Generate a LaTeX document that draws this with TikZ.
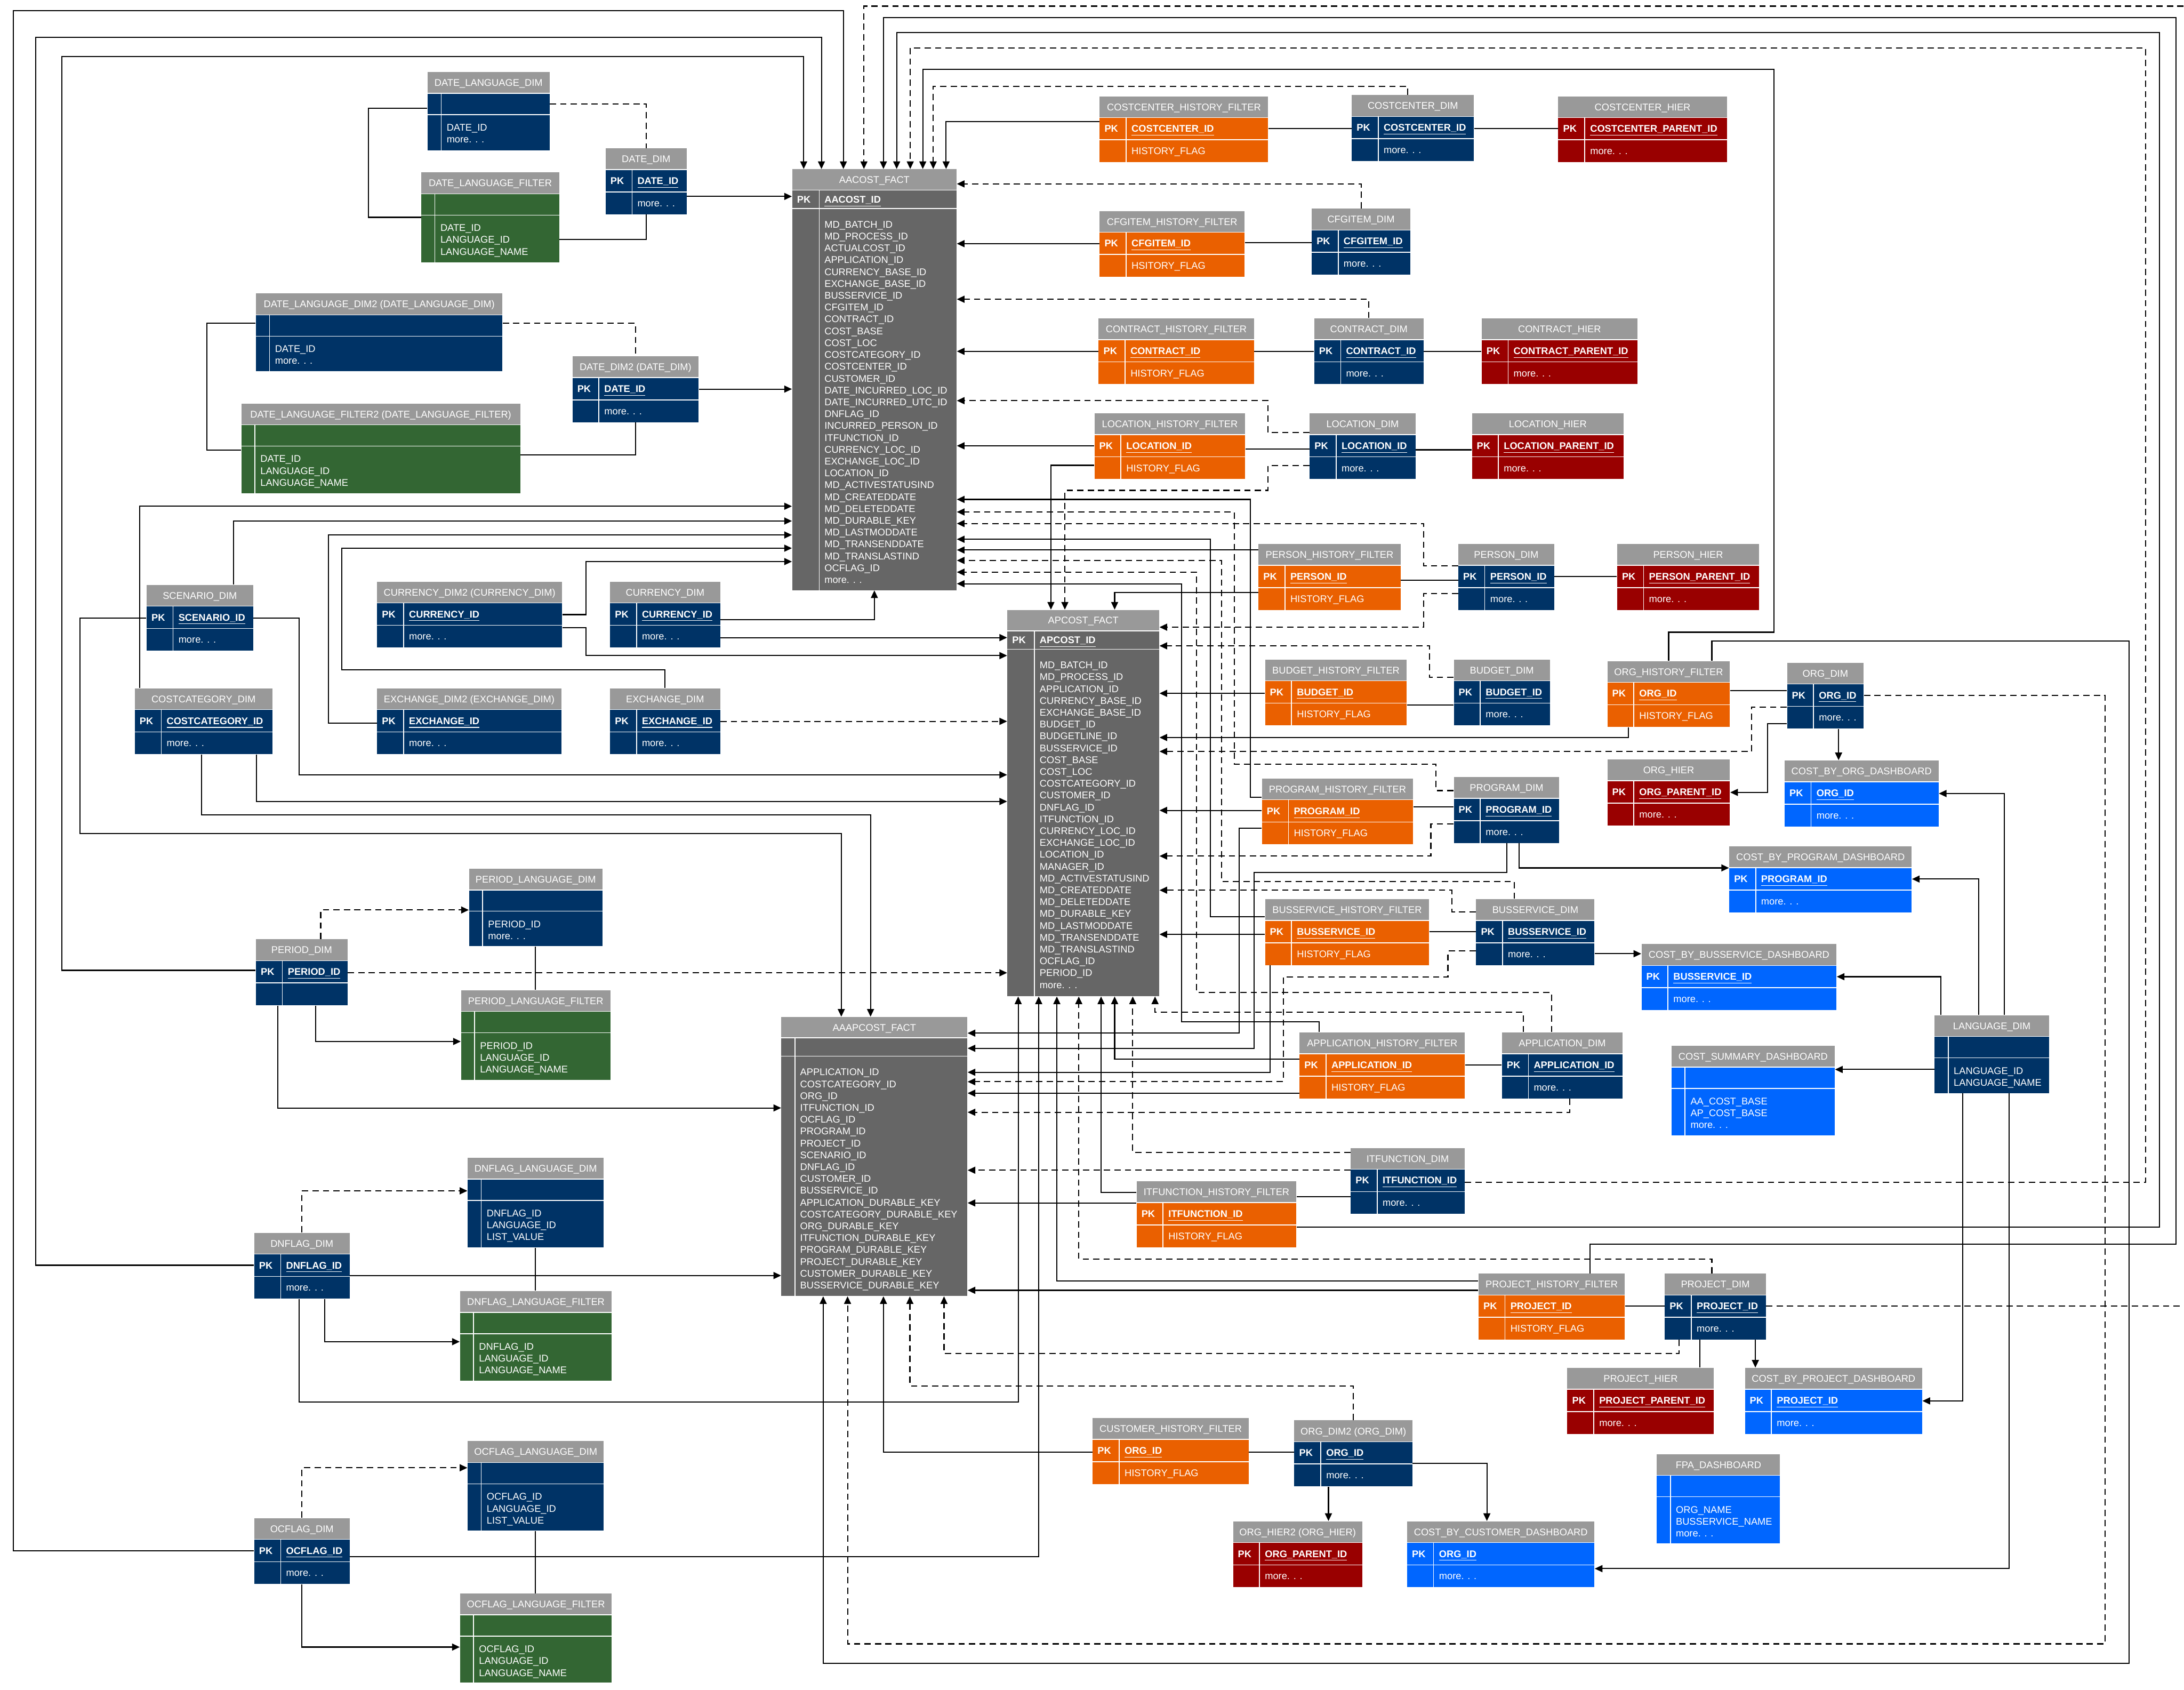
\documentclass[tikz,border=0pt]{standalone}
\usepackage{fontspec}
\setmainfont{Liberation Sans}
\usetikzlibrary{arrows.meta,fit}
\definecolor{thdr}{HTML}{999999}
\definecolor{tnavy}{HTML}{003366}
\definecolor{torange}{HTML}{EA6000}
\definecolor{tgreen}{HTML}{336633}
\definecolor{tred}{HTML}{990000}
\definecolor{tblue}{HTML}{0066FF}
\definecolor{tfact}{HTML}{666666}
\newcommand\ft{\fontsize{7}{8.5}\selectfont}
\newcommand\ftb{\fontsize{7}{8.5}\selectfont\bfseries}
\tikzset{
 hdrtxt/.style={inner sep=0pt, text=white, font=\ft, text height=5pt, text depth=0pt},
 celltxt/.style={anchor=west, inner sep=0pt, text=white, font=\ft, text height=5pt, text depth=0pt},
 bodytxt/.style={anchor=north west, inner sep=0pt, text=white, font=\ft, align=left},
 sepl/.style={draw=white, line width=0.6pt},
 boxn/.style={inner sep=0pt, draw=none},
 lnk/.style={draw=black, line width=0.8pt},
 dlnk/.style={lnk, dash pattern=on 4.5pt off 3pt},
 fk/.style={lnk, -{Triangle[length=5.5pt,width=5pt]}},
 dfk/.style={fk, dash pattern=on 4.5pt off 3pt},
}
% table with PK row and one-line second row
\newcommand\tblpk[8]{%
 \fill[thdr] (#2,#3) rectangle (#4,{#3+15.3});
 \fill[#5] (#2,{#3+15.3}) rectangle (#4,{#3+47.3});
 \draw[sepl] (#2,{#3+15.3}) -- (#4,{#3+15.3}) (#2,{#3+31.3}) -- (#4,{#3+31.3}) ({#2+19},{#3+15.3}) -- ({#2+19},{#3+47.3});
 \node[hdrtxt] at ({(#2+#4)/2},{#3+7.65}) {#6};
 \node[celltxt,font=\ftb] at ({#2+3.3},{#3+23.3}) {PK};
 \node[celltxt,font=\ftb] at ({#2+22.7},{#3+23.3}) {\underline{#7}};
 \node[celltxt] at ({#2+22.7},{#3+39.3}) {#8};
 \coordinate (#1-a) at (#2,#3);
 \coordinate (#1-b) at (#4,{#3+47.3});
 \node[boxn,fit=(#1-a)(#1-b)] (#1) {};
}
% table without PK
\newcommand\tblnp[8]{%
 \fill[thdr] (#2,#3) rectangle (#4,{#3+15.3});
 \fill[#6] (#2,{#3+15.3}) rectangle (#4,#5);
 \draw[sepl] (#2,{#3+15.3}) -- (#4,{#3+15.3}) (#2,{#3+30.6}) -- (#4,{#3+30.6}) ({#2+9.75},{#3+15.3}) -- ({#2+9.75},#5);
 \node[hdrtxt] at ({(#2+#4)/2},{#3+7.65}) {#7};
 \node[bodytxt] at ({#2+13.5},{#3+37.2}) {#8};
 \coordinate (#1-a) at (#2,#3);
 \coordinate (#1-b) at (#4,#5);
 \node[boxn,fit=(#1-a)(#1-b)] (#1) {};
}
% fact table
\newcommand\tblfact[9]{%
 \fill[thdr] (#2,#3) rectangle (#4,{#3+15});
 \fill[tfact] (#2,{#3+15}) rectangle (#4,#5);
 \draw[sepl] (#2,{#3+15}) -- (#4,{#3+15}) (#2,{#3+28.2}) -- (#4,{#3+28.2}) ({#2+#6},{#3+15}) -- ({#2+#6},#5);
 \node[hdrtxt] at ({(#2+#4)/2},{#3+7.5}) {#7};
 \if\relax\detokenize{#8}\relax\else
  \node[celltxt,font=\ftb] at ({#2+3.3},{#3+21.6}) {PK};
  \node[celltxt,font=\ftb] at ({#2+#6+3.5},{#3+21.6}) {\underline{#8}};
 \fi
 \node[bodytxt] at ({#2+#6+3.5},{#3+37}) {#9};
 \coordinate (#1-a) at (#2,#3);
 \coordinate (#1-b) at (#4,#5);
 \node[boxn,fit=(#1-a)(#1-b)] (#1) {};
}
\begin{document}
\begin{tikzpicture}[x=1pt,y=-1pt]
\fill[white] (0,0) rectangle (1568,1213);
\useasboundingbox (0,0) rectangle (1568,1213);

% ---------- fact tables ----------
\tblfact{aac}{568.75}{121.5}{686.75}{423.6}{19.5}{AACOST\_FACT}{AACOST\_ID}{MD\_BATCH\_ID\\MD\_PROCESS\_ID\\ACTUALCOST\_ID\\APPLICATION\_ID\\CURRENCY\_BASE\_ID\\EXCHANGE\_BASE\_ID\\BUSSERVICE\_ID\\CFGITEM\_ID\\CONTRACT\_ID\\COST\_BASE\\COST\_LOC\\COSTCATEGORY\_ID\\COSTCENTER\_ID\\CUSTOMER\_ID\\DATE\_INCURRED\_LOC\_ID\\DATE\_INCURRED\_UTC\_ID\\DNFLAG\_ID\\INCURRED\_PERSON\_ID\\ITFUNCTION\_ID\\CURRENCY\_LOC\_ID\\EXCHANGE\_LOC\_ID\\LOCATION\_ID\\MD\_ACTIVESTATUSIND\\MD\_CREATEDDATE\\MD\_DELETEDDATE\\MD\_DURABLE\_KEY\\MD\_LASTMODDATE\\MD\_TRANSENDDATE\\MD\_TRANSLASTIND\\OCFLAG\_ID\\more. . .}
\tblfact{apc}{723.25}{437.8}{832.25}{715.1}{19.5}{APCOST\_FACT}{APCOST\_ID}{MD\_BATCH\_ID\\MD\_PROCESS\_ID\\APPLICATION\_ID\\CURRENCY\_BASE\_ID\\EXCHANGE\_BASE\_ID\\BUDGET\_ID\\BUDGETLINE\_ID\\BUSSERVICE\_ID\\COST\_BASE\\COST\_LOC\\COSTCATEGORY\_ID\\CUSTOMER\_ID\\DNFLAG\_ID\\ITFUNCTION\_ID\\CURRENCY\_LOC\_ID\\EXCHANGE\_LOC\_ID\\LOCATION\_ID\\MANAGER\_ID\\MD\_ACTIVESTATUSIND\\MD\_CREATEDDATE\\MD\_DELETEDDATE\\MD\_DURABLE\_KEY\\MD\_LASTMODDATE\\MD\_TRANSENDDATE\\MD\_TRANSLASTIND\\OCFLAG\_ID\\PERIOD\_ID\\more. . .}
\tblfact{aaap}{561}{730}{694.5}{930.3}{9.75}{AAAPCOST\_FACT}{}{APPLICATION\_ID\\COSTCATEGORY\_ID\\ORG\_ID\\ITFUNCTION\_ID\\OCFLAG\_ID\\PROGRAM\_ID\\PROJECT\_ID\\SCENARIO\_ID\\DNFLAG\_ID\\CUSTOMER\_ID\\BUSSERVICE\_ID\\APPLICATION\_DURABLE\_KEY\\COSTCATEGORY\_DURABLE\_KEY\\ORG\_DURABLE\_KEY\\ITFUNCTION\_DURABLE\_KEY\\PROGRAM\_DURABLE\_KEY\\PROJECT\_DURABLE\_KEY\\CUSTOMER\_DURABLE\_KEY\\BUSSERVICE\_DURABLE\_KEY}

% ---------- tables without PK ----------
\tblnp{dld}{307}{51.6}{394.5}{107.8}{tnavy}{DATE\_LANGUAGE\_DIM}{DATE\_ID\\more. . .}
\tblnp{dlf}{302.5}{123.8}{401.5}{188.3}{tgreen}{DATE\_LANGUAGE\_FILTER}{DATE\_ID\\LANGUAGE\_ID\\LANGUAGE\_NAME}
\tblnp{dld2}{183.75}{210.7}{360.75}{266.4}{tnavy}{DATE\_LANGUAGE\_DIM2 (DATE\_LANGUAGE\_DIM)}{DATE\_ID\\more. . .}
\tblnp{dlf2}{173.25}{289.6}{373.5}{354.1}{tgreen}{DATE\_LANGUAGE\_FILTER2 (DATE\_LANGUAGE\_FILTER)}{DATE\_ID\\LANGUAGE\_ID\\LANGUAGE\_NAME}
\tblnp{pld}{336.75}{623.5}{432.5}{679.2}{tnavy}{PERIOD\_LANGUAGE\_DIM}{PERIOD\_ID\\more. . .}
\tblnp{plf}{331}{710.7}{438.25}{775}{tgreen}{PERIOD\_LANGUAGE\_FILTER}{PERIOD\_ID\\LANGUAGE\_ID\\LANGUAGE\_NAME}
\tblnp{dnld}{335.75}{831}{433.5}{895.5}{tnavy}{DNFLAG\_LANGUAGE\_DIM}{DNFLAG\_ID\\LANGUAGE\_ID\\LIST\_VALUE}
\tblnp{dnlf}{330.25}{926.7}{439.25}{991.2}{tgreen}{DNFLAG\_LANGUAGE\_FILTER}{DNFLAG\_ID\\LANGUAGE\_ID\\LANGUAGE\_NAME}
\tblnp{ocld}{335.75}{1034.5}{433.5}{1098.7}{tnavy}{OCFLAG\_LANGUAGE\_DIM}{OCFLAG\_ID\\LANGUAGE\_ID\\LIST\_VALUE}
\tblnp{oclf}{330.25}{1143.9}{439.25}{1207.8}{tgreen}{OCFLAG\_LANGUAGE\_FILTER}{OCFLAG\_ID\\LANGUAGE\_ID\\LANGUAGE\_NAME}
\tblnp{lang}{1389}{728.7}{1471}{784.7}{tnavy}{LANGUAGE\_DIM}{LANGUAGE\_ID\\LANGUAGE\_NAME}
\tblnp{csd}{1200}{750.7}{1317.25}{815}{tblue}{COST\_SUMMARY\_DASHBOARD}{AA\_COST\_BASE\\AP\_COST\_BASE\\more. . .}
\tblnp{fpa}{1189.5}{1043.8}{1278}{1108}{tblue}{FPA\_DASHBOARD}{ORG\_NAME\\BUSSERVICE\_NAME\\more. . .}

% ---------- tables with PK ----------
\tblpk{ddim}{434.75}{106.5}{493}{tnavy}{DATE\_DIM}{DATE\_ID}{more. . .}
\tblpk{ddim2}{411}{255.8}{501.5}{tnavy}{DATE\_DIM2 (DATE\_DIM)}{DATE\_ID}{more. . .}
\tblpk{cchf}{789.5}{69.1}{910.5}{torange}{COSTCENTER\_HISTORY\_FILTER}{COSTCENTER\_ID}{HISTORY\_FLAG}
\tblpk{ccd}{970.5}{68.3}{1058.25}{tnavy}{COSTCENTER\_DIM}{COSTCENTER\_ID}{more. . .}
\tblpk{cch}{1118.75}{69.1}{1239.75}{tred}{COSTCENTER\_HIER}{COSTCENTER\_PARENT\_ID}{more. . .}
\tblpk{cfhf}{789.5}{151.4}{893.5}{torange}{CFGITEM\_HISTORY\_FILTER}{CFGITEM\_ID}{HSITORY\_FLAG}
\tblpk{cfd}{941.75}{149.8}{1012.5}{tnavy}{CFGITEM\_DIM}{CFGITEM\_ID}{more. . .}
\tblpk{chf}{788.75}{228.5}{900.25}{torange}{CONTRACT\_HISTORY\_FILTER}{CONTRACT\_ID}{HISTORY\_FLAG}
\tblpk{cd}{943.5}{228.5}{1022}{tnavy}{CONTRACT\_DIM}{CONTRACT\_ID}{more. . .}
\tblpk{ch}{1063.75}{228.5}{1175.5}{tred}{CONTRACT\_HIER}{CONTRACT\_PARENT\_ID}{more. . .}
\tblpk{lhf}{785.75}{296.6}{894}{torange}{LOCATION\_HISTORY\_FILTER}{LOCATION\_ID}{HISTORY\_FLAG}
\tblpk{ld}{940.25}{296.6}{1016.25}{tnavy}{LOCATION\_DIM}{LOCATION\_ID}{more. . .}
\tblpk{lh}{1056.75}{296.6}{1165.75}{tred}{LOCATION\_HIER}{LOCATION\_PARENT\_ID}{more. . .}
\tblpk{phf}{903.5}{390.5}{1005.5}{torange}{PERSON\_HISTORY\_FILTER}{PERSON\_ID}{HISTORY\_FLAG}
\tblpk{pd}{1047}{390.5}{1115.75}{tnavy}{PERSON\_DIM}{PERSON\_ID}{more. . .}
\tblpk{ph}{1161}{390.5}{1263}{tred}{PERSON\_HIER}{PERSON\_PARENT\_ID}{more. . .}
\tblpk{bhf}{908.25}{473.4}{1010}{torange}{BUDGET\_HISTORY\_FILTER}{BUDGET\_ID}{HISTORY\_FLAG}
\tblpk{bd}{1043.75}{473.4}{1112.75}{tnavy}{BUDGET\_DIM}{BUDGET\_ID}{more. . .}
\tblpk{ohf}{1154}{474.5}{1242}{torange}{ORG\_HISTORY\_FILTER}{ORG\_ID}{HISTORY\_FLAG}
\tblpk{od}{1283}{475.7}{1338}{tnavy}{ORG\_DIM}{ORG\_ID}{more. . .}
\tblpk{oh}{1154}{545.1}{1242}{tred}{ORG\_HIER}{ORG\_PARENT\_ID}{more. . .}
\tblpk{cbod}{1281.25}{545.9}{1391.75}{tblue}{COST\_BY\_ORG\_DASHBOARD}{ORG\_ID}{more. . .}
\tblpk{prhf}{906}{558.8}{1014.5}{torange}{PROGRAM\_HISTORY\_FILTER}{PROGRAM\_ID}{HISTORY\_FLAG}
\tblpk{prd}{1043.75}{557.8}{1119.5}{tnavy}{PROGRAM\_DIM}{PROGRAM\_ID}{more. . .}
\tblpk{cbpd}{1241.5}{607.5}{1372.5}{tblue}{COST\_BY\_PROGRAM\_DASHBOARD}{PROGRAM\_ID}{more. . .}
\tblpk{bshf}{908.25}{645.4}{1026}{torange}{BUSSERVICE\_HISTORY\_FILTER}{BUSSERVICE\_ID}{HISTORY\_FLAG}
\tblpk{bsd}{1059.75}{645.4}{1144.75}{tnavy}{BUSSERVICE\_DIM}{BUSSERVICE\_ID}{more. . .}
\tblpk{cbbd}{1178.5}{677.7}{1318.5}{tblue}{COST\_BY\_BUSSERVICE\_DASHBOARD}{BUSSERVICE\_ID}{more. . .}
\tblpk{ahf}{933}{741.1}{1051.75}{torange}{APPLICATION\_HISTORY\_FILTER}{APPLICATION\_ID}{HISTORY\_FLAG}
\tblpk{ad}{1078.25}{741.1}{1165}{tnavy}{APPLICATION\_DIM}{APPLICATION\_ID}{more. . .}
\tblpk{itfd}{969.75}{824}{1051.5}{tnavy}{ITFUNCTION\_DIM}{ITFUNCTION\_ID}{more. . .}
\tblpk{ithf}{816}{848}{930.75}{torange}{ITFUNCTION\_HISTORY\_FILTER}{ITFUNCTION\_ID}{HISTORY\_FLAG}
\tblpk{pjhf}{1061.5}{914.3}{1166.5}{torange}{PROJECT\_HISTORY\_FILTER}{PROJECT\_ID}{HISTORY\_FLAG}
\tblpk{pjd}{1195.25}{914.3}{1267.75}{tnavy}{PROJECT\_DIM}{PROJECT\_ID}{more. . .}
\tblpk{pjh}{1125.25}{981.9}{1230.5}{tred}{PROJECT\_HIER}{PROJECT\_PARENT\_ID}{more. . .}
\tblpk{cbpjd}{1252.75}{981.9}{1380}{tblue}{COST\_BY\_PROJECT\_DASHBOARD}{PROJECT\_ID}{more. . .}
\tblpk{cuhf}{784.5}{1018}{896.5}{torange}{CUSTOMER\_HISTORY\_FILTER}{ORG\_ID}{HISTORY\_FLAG}
\tblpk{od2}{929.25}{1019.6}{1014}{tnavy}{ORG\_DIM2 (ORG\_DIM)}{ORG\_ID}{more. . .}
\tblpk{oh2}{885.25}{1092}{978}{tred}{ORG\_HIER2 (ORG\_HIER)}{ORG\_PARENT\_ID}{more. . .}
\tblpk{cbcd}{1010.25}{1092}{1144.75}{tblue}{COST\_BY\_CUSTOMER\_DASHBOARD}{ORG\_ID}{more. . .}
\tblpk{scd}{105.25}{419.8}{181.75}{tnavy}{SCENARIO\_DIM}{SCENARIO\_ID}{more. . .}
\tblpk{ccat}{96.75}{494.1}{195.5}{tnavy}{COSTCATEGORY\_DIM}{COSTCATEGORY\_ID}{more. . .}
\tblpk{cur2}{270.75}{417.5}{403.5}{tnavy}{CURRENCY\_DIM2 (CURRENCY\_DIM)}{CURRENCY\_ID}{more. . .}
\tblpk{cur}{438}{417.5}{517}{tnavy}{CURRENCY\_DIM}{CURRENCY\_ID}{more. . .}
\tblpk{ex2}{270.75}{494.1}{403}{tnavy}{EXCHANGE\_DIM2 (EXCHANGE\_DIM)}{EXCHANGE\_ID}{more. . .}
\tblpk{ex}{438}{494.1}{517}{tnavy}{EXCHANGE\_DIM}{EXCHANGE\_ID}{more. . .}
\tblpk{perd}{183.75}{674.3}{249.5}{tnavy}{PERIOD\_DIM}{PERIOD\_ID}{}
\tblpk{dnd}{182.5}{884.9}{251}{tnavy}{DNFLAG\_DIM}{DNFLAG\_ID}{more. . .}
\tblpk{ocd}{182.5}{1089.7}{251}{tnavy}{OCFLAG\_DIM}{OCFLAG\_ID}{more. . .}

% ---------- connectors: date group ----------
\draw[lnk] (dld.west |- 0,77.6) -- (264.5,77.6) -- (264.5,156) -- (dlf.west |- 0,156);
\draw[dlnk] (dld.east |- 0,74.8) -- (464,74.8) -- (ddim.north -| 464,0);
\draw[lnk] (ddim.south -| 464,0) -- (464,172) -- (dlf.east |- 0,172);
\draw[fk] (ddim.east |- 0,141) -- (aac.west |- 0,141);
\draw[lnk] (dld2.west |- 0,232.1) -- (148.5,232.1) -- (148.5,323.2) -- (dlf2.west |- 0,323.2);
\draw[dlnk] (dld2.east |- 0,232.1) -- (456.25,232.1) -- (ddim2.north -| 456.25,0);
\draw[lnk] (ddim2.south -| 456.25,0) -- (456.25,326.5) -- (dlf2.east |- 0,326.5);
\draw[fk] (ddim2.east |- 0,279.3) -- (aac.west |- 0,279.3);

% ---------- AACOST top ----------
\draw[fk] (perd.west |- 0,696.5) -- (44.5,696.5) -- (44.5,40.7) -- (577,40.7) -- (aac.north -| 577,0);
\draw[fk] (dnd.west |- 0,908.2) -- (25.5,908.2) -- (25.5,26.8) -- (589.75,26.8) -- (aac.north -| 589.75,0);
\draw[fk] (ocd.west |- 0,1113.2) -- (9.5,1113.2) -- (9.5,7.7) -- (605.5,7.7) -- (aac.north -| 605.5,0);
\draw[dfk] (pjd.east |- 0,937.5) -- (1570,937.5) -- (1570,4.4) -- (620.25,4.4) -- (aac.north -| 620.25,0);
\draw[fk] (pjhf.north -| 1141.5,0) -- (1141.5,893) -- (1562.25,893) -- (1562.25,12.6) -- (634.25,12.6) -- (aac.north -| 634.25,0);
\draw[fk] (ithf.east |- 0,881) -- (1550.25,881) -- (1550.25,23.5) -- (643.75,23.5) -- (aac.north -| 643.75,0);
\draw[dfk] (itfd.east |- 0,848.8) -- (1540.25,848.8) -- (1540.25,34.3) -- (653.5,34.3) -- (aac.north -| 653.5,0);
\draw[fk] (ohf.north -| 1198,0) -- (1198,453.8) -- (1273.5,453.8) -- (1273.5,49.8) -- (662.5,49.8) -- (aac.north -| 662.5,0);
\draw[dfk] (ccd.north -| 1010.75,0) -- (1010.75,61.9) -- (670,61.9) -- (aac.north -| 670,0);
\draw[fk] (cchf.west |- 0,87.2) -- (679.25,87.2) -- (aac.north -| 679.25,0);
\draw[lnk] (cchf.east |- 0,92.3) -- (ccd.west |- 0,92.3);
\draw[lnk] (ccd.east |- 0,92.3) -- (cch.west |- 0,92.3);

% ---------- AACOST right ----------
\draw[dfk] (cfd.north -| 977.25,0) -- (977.25,132) -- (aac.east |- 0,132);
\draw[fk] (cfhf.west |- 0,174.9) -- (aac.east |- 0,174.9);
\draw[lnk] (cfhf.east |- 0,174.3) -- (cfd.west |- 0,174.3);
\draw[dfk] (cd.north -| 982.75,0) -- (982.75,214.8) -- (aac.east |- 0,214.8);
\draw[fk] (chf.west |- 0,252.2) -- (aac.east |- 0,252.2);
\draw[lnk] (chf.east |- 0,252.2) -- (cd.west |- 0,252.2);
\draw[lnk] (cd.east |- 0,252.2) -- (ch.west |- 0,252.2);
\draw[dfk] (ld.west |- 0,310.5) -- (910.25,310.5) -- (910.25,287.6) -- (aac.east |- 0,287.6);
\draw[fk] (lhf.west |- 0,320) -- (aac.east |- 0,320);
\draw[lnk] (lhf.east |- 0,322.4) -- (ld.west |- 0,322.4);
\draw[lnk] (ld.east |- 0,322.9) -- (lh.west |- 0,322.9);
\draw[fk] (lhf.west |- 0,334) -- (754.5,334) -- (apc.north -| 754.5,0);
\draw[dfk] (ld.west |- 0,334.2) -- (910.25,334.2) -- (910.25,352) -- (764.5,352) -- (apc.north -| 764.5,0);
\draw[fk] (prhf.west |- 0,572.2) -- (897.75,572.2) -- (897.75,358.5) -- (aac.east |- 0,358.5);
\draw[dfk] (prd.west |- 0,567.5) -- (1031,567.5) -- (1031,548.5) -- (886.25,548.5) -- (886.25,367.5) -- (aac.east |- 0,367.5);
\draw[dfk] (pd.west |- 0,406) -- (1022,406) -- (1022,375.8) -- (aac.east |- 0,375.8);
\draw[fk] (bshf.west |- 0,658) -- (869,658) -- (869,387.1) -- (aac.east |- 0,387.1);
\draw[fk] (phf.west |- 0,394.8) -- (aac.east |- 0,394.8);
\draw[dfk] (bsd.north -| 1087.25,0) -- (1087.25,632.8) -- (877,632.8) -- (877,402.3) -- (aac.east |- 0,402.3);
\draw[dfk] (ad.north -| 1114,0) -- (1114,712.5) -- (859,712.5) -- (859,410.7) -- (aac.east |- 0,410.7);
\draw[fk] (ahf.north -| 947,0) -- (947,733.4) -- (848.25,733.4) -- (848.25,419) -- (aac.east |- 0,419);

% ---------- AACOST left / bottom ----------
\draw[fk] (ccat.north -| 100.25,0) -- (100.25,363.4) -- (aac.west |- 0,363.4);
\draw[fk] (scd.north -| 167.75,0) -- (167.75,374) -- (aac.west |- 0,374);
\draw[fk] (ex2.west |- 0,519.1) -- (235.75,519.1) -- (235.75,384) -- (aac.west |- 0,384);
\draw[fk] (ex.north -| 477.5,0) -- (477.5,480.9) -- (245.5,480.9) -- (245.5,393.5) -- (aac.west |- 0,393.5);
\draw[fk] (cur2.east |- 0,441.2) -- (420.75,441.2) -- (420.75,403.1) -- (aac.west |- 0,403.1);
\draw[fk] (cur.east |- 0,444.8) -- (627.75,444.8) -- (aac.south -| 627.75,0);

% ---------- APCOST ----------
\draw[fk] (cur.east |- 0,457.7) -- (apc.west |- 0,457.7);
\draw[fk] (cur2.east |- 0,450.7) -- (420.75,450.7) -- (420.75,470.6) -- (apc.west |- 0,470.6);
\draw[dfk] (ex.east |- 0,517.8) -- (apc.west |- 0,517.8);
\draw[fk] (scd.east |- 0,443.5) -- (214.75,443.5) -- (214.75,556.2) -- (apc.west |- 0,556.2);
\draw[fk] (ccat.south -| 184.25,0) -- (184.25,575.3) -- (apc.west |- 0,575.3);
\draw[dfk] (perd.east |- 0,698.3) -- (apc.west |- 0,698.3);
\draw[fk] (phf.west |- 0,425.4) -- (800.25,425.4) -- (apc.north -| 800.25,0);
\draw[dfk] (pd.west |- 0,426) -- (1022,426) -- (1022,450.2) -- (apc.east |- 0,450.2);
\draw[lnk] (phf.east |- 0,416.4) -- (pd.west |- 0,416.4);
\draw[lnk] (pd.east |- 0,413.8) -- (ph.west |- 0,413.8);
\draw[dfk] (bd.west |- 0,486.3) -- (1026.25,486.3) -- (1026.25,463.6) -- (apc.east |- 0,463.6);
\draw[fk] (bhf.west |- 0,497.7) -- (apc.east |- 0,497.7);
\draw[lnk] (bhf.east |- 0,505.9) -- (bd.west |- 0,505.9);
\draw[fk] (ohf.south -| 1169.25,0) -- (1169.25,529.4) -- (apc.east |- 0,529.4);
\draw[dfk] (od.west |- 0,507.5) -- (1257.5,507.5) -- (1257.5,539.4) -- (apc.east |- 0,539.4);
\draw[lnk] (ohf.east |- 0,495.6) -- (od.west |- 0,495.6);
\draw[fk] (od.west |- 0,519.3) -- (1269,519.3) -- (1269,568.8) -- (oh.east |- 0,568.8);
\draw[fk] (od.south -| 1320,0) -- (cbod.north -| 1320,0);
\draw[dfk] (od.east |- 0,499.2) -- (1511.25,499.2) -- (1511.25,1180) -- (608.5,1180) -- (aaap.south -| 608.5,0);
\draw[fk] (ohf.north -| 1229,0) -- (1229,460.3) -- (1528.5,460.3) -- (1528.5,1193.9) -- (591,1193.9) -- (aaap.south -| 591,0);
\draw[fk] (prhf.west |- 0,581.7) -- (apc.east |- 0,581.7);
\draw[lnk] (prhf.east |- 0,579.2) -- (prd.west |- 0,579.2);
\draw[fk] (prhf.west |- 0,594.6) -- (889.5,594.6) -- (889.5,741.6) -- (aaap.east |- 0,741.6);
\draw[dfk] (prd.west |- 0,591.3) -- (1027.25,591.3) -- (1027.25,614.5) -- (apc.east |- 0,614.5);
\draw[fk] (prd.south -| 1081.75,0) -- (1081.75,626.1) -- (900.5,626.1) -- (900.5,752.5) -- (aaap.east |- 0,752.5);
\draw[fk] (prd.south -| 1090.5,0) -- (1090.5,623) -- (cbpd.west |- 0,623);
\draw[dfk] (bsd.west |- 0,654.5) -- (1042.25,654.5) -- (1042.25,639) -- (apc.east |- 0,639);
\draw[fk] (bshf.west |- 0,670.7) -- (apc.east |- 0,670.7);
\draw[lnk] (bshf.east |- 0,668.6) -- (bsd.west |- 0,668.6);
\draw[fk] (bshf.south -| 911.75,0) -- (911.75,769.7) -- (aaap.east |- 0,769.7);
\draw[dfk] (bsd.west |- 0,682.6) -- (1039.5,682.6) -- (1039.5,701.4) -- (921.25,701.4) -- (921.25,776.5) -- (aaap.east |- 0,776.5);
\draw[fk] (bsd.east |- 0,684.6) -- (cbbd.west |- 0,684.6);
\draw[dfk] (ad.north -| 1093.75,0) -- (1093.75,726.7) -- (829.25,726.7) -- (apc.south -| 829.25,0);
\draw[fk] (ahf.west |- 0,760.2) -- (800.25,760.2) -- (apc.south -| 800.25,0);
\draw[lnk] (ahf.east |- 0,764.6) -- (ad.west |- 0,764.6);
\draw[fk] (ahf.west |- 0,784.7) -- (aaap.east |- 0,784.7);
\draw[dfk] (ad.south -| 1127,0) -- (1127,798.4) -- (aaap.east |- 0,798.4);
\draw[dfk] (itfd.west |- 0,827.2) -- (813.25,827.2) -- (apc.south -| 813.25,0);
\draw[dfk] (itfd.west |- 0,840) -- (aaap.east |- 0,840);
\draw[fk] (ithf.west |- 0,855.8) -- (790.5,855.8) -- (apc.south -| 790.5,0);
\draw[lnk] (ithf.east |- 0,858.9) -- (itfd.west |- 0,858.9);
\draw[fk] (ithf.west |- 0,863.5) -- (aaap.east |- 0,863.5);
\draw[fk] (pjhf.west |- 0,919.5) -- (758.75,919.5) -- (apc.south -| 758.75,0);
\draw[fk] (pjhf.west |- 0,926.2) -- (aaap.east |- 0,926.2);
\draw[lnk] (pjhf.east |- 0,937.5) -- (pjd.west |- 0,937.5);
\draw[dfk] (pjd.north -| 1229,0) -- (1229,903.8) -- (774.5,903.8) -- (apc.south -| 774.5,0);
\draw[dfk] (pjd.south -| 1205.5,0) -- (1205.5,971.6) -- (677.75,971.6) -- (aaap.south -| 677.75,0);
\draw[lnk] (pjd.south -| 1220.5,0) -- (pjh.north -| 1220.5,0);
\draw[fk] (pjd.south -| 1260.25,0) -- (cbpjd.north -| 1260.25,0);
\draw[fk] (dnd.south -| 214.75,0) -- (214.75,1006.4) -- (731,1006.4) -- (apc.south -| 731,0);
\draw[fk] (ocd.east |- 0,1117.3) -- (745.75,1117.3) -- (apc.south -| 745.75,0);

% ---------- AAAPCOST & bottom ----------
\draw[fk] (cuhf.west |- 0,1042.3) -- (634.25,1042.3) -- (aaap.south -| 634.25,0);
\draw[lnk] (cuhf.east |- 0,1042.3) -- (od2.west |- 0,1042.3);
\draw[dfk] (od2.north -| 971.5,0) -- (971.5,994.8) -- (653.25,994.8) -- (aaap.south -| 653.25,0);
\draw[fk] (od2.south -| 953.75,0) -- (oh2.north -| 953.75,0);
\draw[fk] (od2.east |- 0,1050.5) -- (1067.5,1050.5) -- (cbcd.north -| 1067.5,0);
\draw[fk] (scd.west |- 0,443.5) -- (57.5,443.5) -- (57.5,598.2) -- (604,598.2) -- (aaap.north -| 604,0);
\draw[fk] (ccat.south -| 144.75,0) -- (144.75,584.8) -- (625,584.8) -- (aaap.north -| 625,0);
\draw[fk] (perd.south -| 199.5,0) -- (199.5,795.3) -- (aaap.west |- 0,795.3);
\draw[fk] (dnd.east |- 0,915.6) -- (aaap.west |- 0,915.6);

% ---------- language side tables ----------
\draw[dfk] (perd.north -| 230.25,0) -- (230.25,653.2) -- (pld.west |- 0,653.2);
\draw[fk] (perd.south -| 226.75,0) -- (226.75,747.6) -- (plf.west |- 0,747.6);
\draw[lnk] (pld.south -| 384.5,0) -- (plf.north -| 384.5,0);
\draw[dfk] (dnd.north -| 216.75,0) -- (216.75,854.8) -- (dnld.west |- 0,854.8);
\draw[fk] (dnd.south -| 233,0) -- (233,963.1) -- (dnlf.west |- 0,963.1);
\draw[lnk] (dnld.south -| 384.5,0) -- (dnlf.north -| 384.5,0);
\draw[dfk] (ocd.north -| 216.75,0) -- (216.75,1053.6) -- (ocld.west |- 0,1053.6);
\draw[fk] (ocd.south -| 216.75,0) -- (216.75,1182.3) -- (oclf.west |- 0,1182.3);
\draw[lnk] (ocld.south -| 384.5,0) -- (oclf.north -| 384.5,0);

% ---------- LANGUAGE_DIM ----------
\draw[fk] (lang.north -| 1439,0) -- (1439,569.6) -- (cbod.east |- 0,569.6);
\draw[fk] (lang.north -| 1420.5,0) -- (1420.5,631) -- (cbpd.east |- 0,631);
\draw[fk] (lang.north -| 1393.5,0) -- (1393.5,701.1) -- (cbbd.east |- 0,701.1);
\draw[fk] (lang.west |- 0,767.7) -- (csd.east |- 0,767.7);
\draw[fk] (lang.south -| 1409.25,0) -- (1409.25,1005.6) -- (cbpjd.east |- 0,1005.6);
\draw[fk] (lang.south -| 1442.5,0) -- (1442.5,1126) -- (cbcd.east |- 0,1126);
\end{tikzpicture}
\end{document}
